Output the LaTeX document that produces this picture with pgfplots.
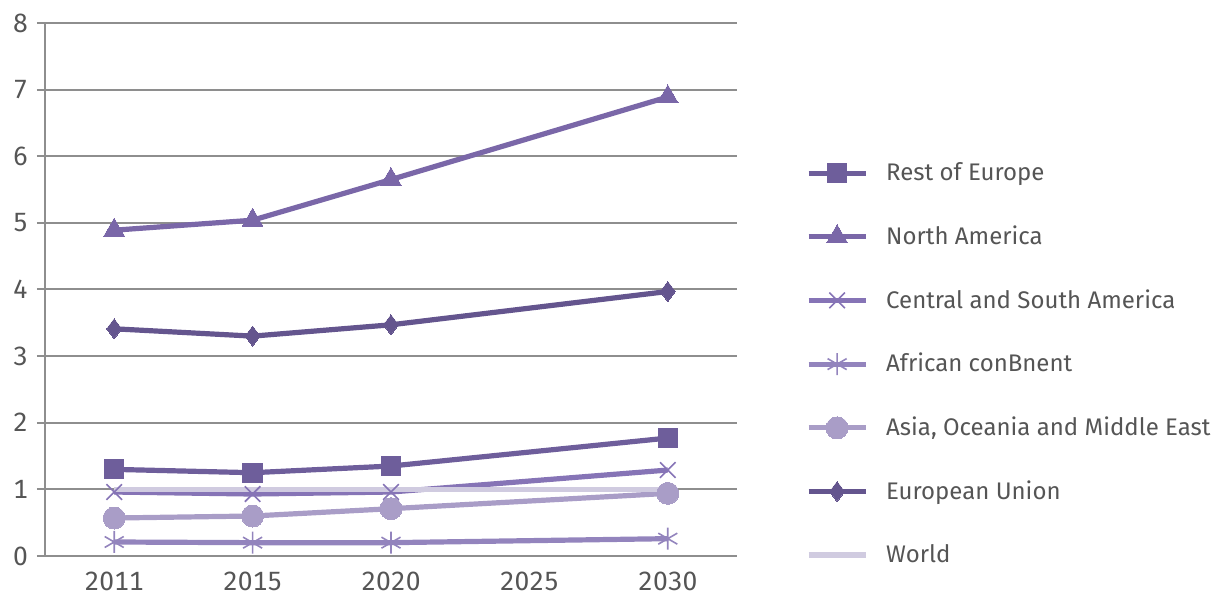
\documentclass[border=0pt]{standalone}
\usepackage{pgfplots}
\pgfplotsset{compat=1.18}
\usetikzlibrary{calc}
\usepackage{fontspec}
\setmainfont{Fira Sans}[Numbers={Monospaced,Lining}]
\definecolor{txt}{HTML}{555555}
\definecolor{grd}{HTML}{8E8E8E}
\definecolor{cRoE}{HTML}{6E5E9B}
\definecolor{cNA}{HTML}{7A67A8}
\definecolor{cCSA}{HTML}{8674B6}
\definecolor{cAF}{HTML}{9384BD}
\definecolor{cAS}{HTML}{A99DC7}
\definecolor{cEU}{HTML}{64558E}
\definecolor{cW}{HTML}{D0CBE0}
\begin{document}
\begin{tikzpicture}
\begin{axis}[
  scale only axis,
  width=346pt, height=266.5pt,
  xmin=-0.5, xmax=4.5, ymin=0, ymax=8,
  xtick={0,1,2,3,4},
  xticklabels={2011,2015,2020,2025,2030},
  extra x ticks={-0.5,0.5,1.5,2.5,3.5,4.5},
  extra x tick labels={},
  extra x tick style={major tick length=8pt, tick style={grd, line width=1pt}, tick align=outside, grid=none},
  x tick style={draw=none},
  ytick={0,1,...,8},
  ymajorgrids,
  grid style={grd, line width=1pt},
  axis x line*=bottom,
  axis y line*=left,
  axis line style={grd, line width=1pt},
  y tick style={grd, line width=1pt},
  tick align=outside,
  major tick length=4pt,
  tick label style={font=\fontsize{13.2}{15}\selectfont, text=txt},
  /pgf/number format/assume math mode=true,
  xticklabel style={yshift=-3pt, inner sep=1pt},
  yticklabel style={xshift=-1pt},
  legend style={at={(1.0905,0.36)}, anchor=west, draw=none, fill=none,
    font=\fontsize{12}{14}\selectfont, text=txt, row sep=17pt,
    /tikz/every odd column/.append style={column sep=0pt}},
  legend cell align=left,
  legend image code/.code={\draw[mark repeat=2,mark phase=2] plot coordinates {(0pt,0pt) (14.25pt,0pt) (28.5pt,0pt)};},
  every axis plot/.append style={line width=2.6pt},
  clip=false,
]
\addplot[cRoE, mark=square*, mark size=4.8pt, mark options={solid, line width=0pt}] coordinates {(0,1.30) (1,1.25) (2,1.35) (4,1.77)};
\addlegendentry{\hspace{7pt}Rest of Europe}
\addplot[cNA, mark=triangle*, mark size=6pt, mark options={solid, line width=0pt}] coordinates {(0,4.89) (1,5.04) (2,5.65) (4,6.89)};
\addlegendentry{\hspace{7pt}North America}
\addplot[cCSA, mark=x, mark size=5.5pt, mark options={solid, line width=0.8pt}] coordinates {(0,0.96) (1,0.93) (2,0.96) (4,1.29)};
\addlegendentry{\hspace{7pt}Central and South America}
\addplot[cAF, mark=asterisk, mark size=5.5pt, mark options={solid, line width=0.8pt}] coordinates {(0,0.21) (1,0.20) (2,0.20) (4,0.26)};
\addlegendentry{\hspace{7pt}African conBnent}
\addplot[cAS, mark=*, mark size=5.5pt, mark options={solid, line width=0pt}] coordinates {(0,0.57) (1,0.60) (2,0.71) (4,0.94)};
\addlegendentry{\hspace{7pt}Asia, Oceania and Middle East}
\addplot[cEU, mark=diamond*, mark size=5pt, mark options={solid, line width=0pt}] coordinates {(0,3.41) (1,3.30) (2,3.47) (4,3.97)};
\addlegendentry{\hspace{7pt}European Union}
\addplot[cW, no marks] coordinates {(0,1.0) (1,1.0) (2,1.0) (4,1.0)};
\addlegendentry{\hspace{7pt}World}
\end{axis}
\pgfresetboundingbox
\path ($(current axis.south west)+(-22.5pt,-22.5pt)$) rectangle ($(current axis.north east)+(243.5pt,11.5pt)$);
\end{tikzpicture}
\end{document}
